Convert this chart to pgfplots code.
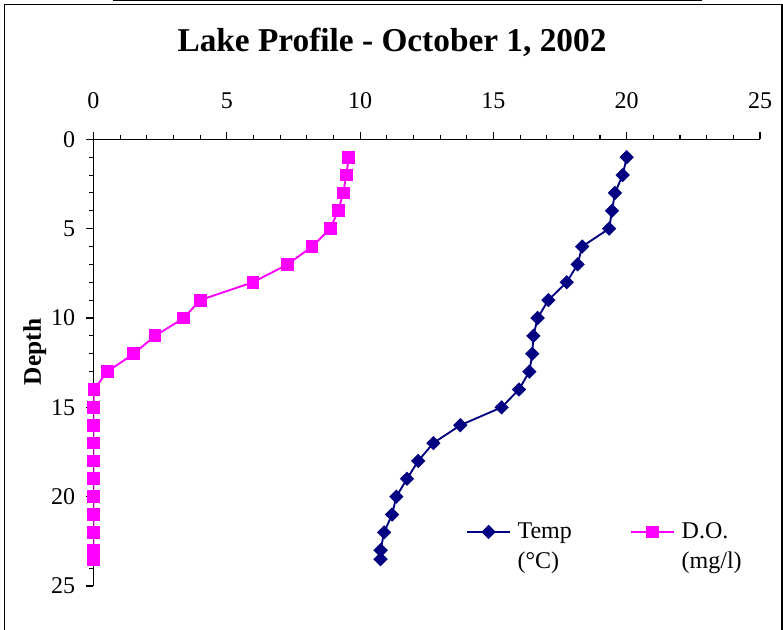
\documentclass[border=0pt]{standalone}
\usepackage{fontspec}
\setmainfont{Liberation Serif}
\usepackage{pgfplots}
\pgfplotsset{compat=1.18}
\definecolor{tempnavy}{RGB}{0,0,128}
\definecolor{domag}{RGB}{255,0,255}
\begin{document}
\begin{tikzpicture}
\path[use as bounding box] (0,0) rectangle (587.25pt,-472.5pt);
\draw[line width=1.1pt] (3.5pt,-480pt) -- (3.5pt,-3.5pt) -- (586.6pt,-3.5pt) -- (586.6pt,-480pt);
\draw[line width=1pt] (84.75pt,-0.5pt) -- (526.5pt,-0.5pt);
\node[anchor=base, font=\fontsize{25}{30}\selectfont\bfseries] at (294pt,-39pt) {Lake Profile - October 1, 2002};
\begin{axis}[
  at={(70.1pt,-104.5pt)}, anchor=north west,
  scale only axis, width=499.9pt, height=335pt,
  xmin=0, xmax=25, ymin=0, ymax=25,
  y dir=reverse,
  axis x line*=top, axis y line*=left,
  xtick={0,5,...,25}, ytick={0,5,...,25},
  minor tick num=4,
  tick align=outside,
  major tick length=5.7pt, minor tick length=3.5pt,
  tick style={black, line width=0.8pt},
  axis line style={black, line width=0.8pt},
  ticklabel style={font=\fontsize{18}{20}\selectfont},
  xticklabel style={yshift=13.5pt},
  yticklabel style={xshift=-4.5pt},
  /pgf/number format/assume math mode=true,
  ylabel={Depth},
  every axis y label/.style={at={(axis description cs:-0.088,0.524)}, rotate=90, anchor=center, font=\fontsize{19}{22}\selectfont\bfseries},
  legend columns=2,
  legend style={draw=none, fill=none, font=\fontsize{18}{22.5}\selectfont,
    at={(axis description cs:0.553,0.121)}, anchor=west,
    /tikz/every even column/.append style={column sep=42pt},
    /tikz/every odd column/.append style={column sep=3pt}},
  legend image code/.code={\draw[mark repeat=2,mark phase=2,#1] plot coordinates {(0pt,0pt) (16pt,0pt) (32pt,0pt)};},
]
\addplot[color=tempnavy, line width=1.4pt, mark=square*, mark size=3.1pt, mark options={rotate=45, solid, fill=tempnavy}] coordinates {
(20.0,1) (19.85,2) (19.56,3) (19.45,4) (19.34,5) (18.33,6) (18.16,7) (17.75,8)
(17.06,9) (16.66,10) (16.5,11) (16.46,12) (16.35,13) (15.96,14) (15.31,15)
(13.76,16) (12.75,17) (12.18,18) (11.76,19) (11.36,20) (11.2,21) (10.9,22)
(10.77,23) (10.77,23.5)
};
\addlegendentry{\rlap{\smash{\raisebox{-22.5pt}{(°C)}}}Temp}
\addplot[color=domag, line width=1.4pt, mark=square*, mark size=4.1pt, mark options={solid, fill=domag}] coordinates {
(9.58,1) (9.48,2) (9.37,3) (9.18,4) (8.88,5) (8.2,6) (7.28,7) (5.98,8)
(4.0,9) (3.39,10) (2.31,11) (1.51,12) (0.52,13) (0.02,14) (0,15)
(0,16) (0,17) (0,18) (0,19) (0,20) (0,21) (0,22) (0,23) (0,23.5)
};
\addlegendentry{\rlap{\smash{\raisebox{-22.5pt}{(mg/l)}}}D.O.}
\end{axis}
\end{tikzpicture}
\end{document}
